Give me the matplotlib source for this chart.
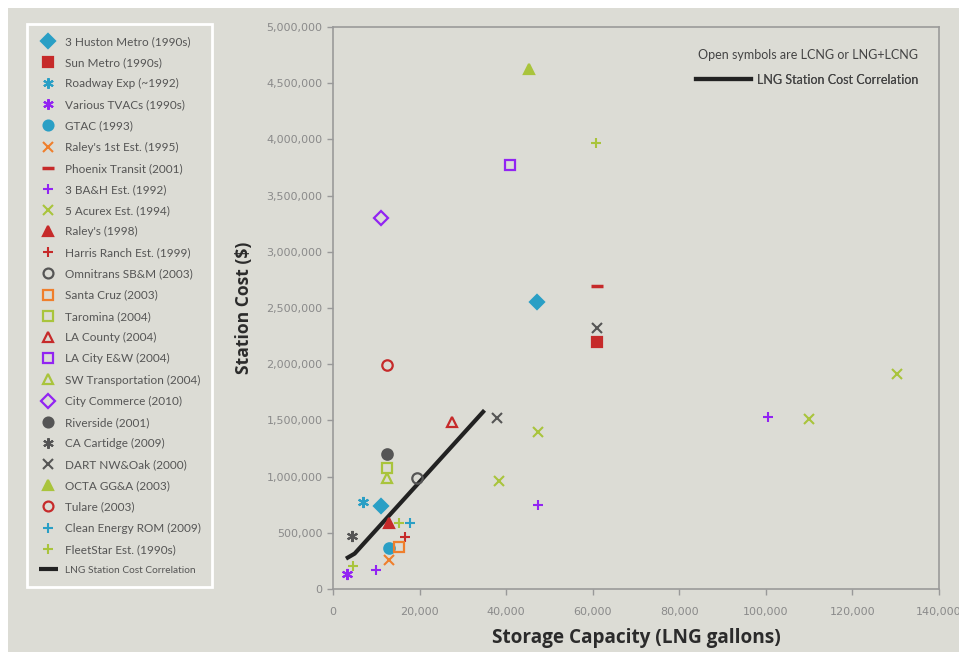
"""LNG station cost vs storage capacity scatter."""
import matplotlib
matplotlib.use("Agg")
import matplotlib.pyplot as plt
from matplotlib.lines import Line2D
from matplotlib.patches import Rectangle
from matplotlib.ticker import FuncFormatter

BG = "#dcdcd5"
TEAL = "#2a9fc5"
RED = "#c62a2a"
PURPLE = "#9224f2"
ORANGE = "#ef7f2c"
YG = "#a9c43c"
GRAY = "#555555"
AST = (6, 2, 0)

# name, marker, color, filled, storage (gal), cost ($)
names = [
    "3 Huston Metro (1990s)", "Sun Metro (1990s)", "Roadway Exp (~1992)",
    "Various TVACs (1990s)", "GTAC (1993)", "Raley's 1st Est. (1995)",
    "Phoenix Transit (2001)", "3 BA&H Est. (1992)", "5 Acurex Est. (1994)",
    "Raley's (1998)", "Harris Ranch Est. (1999)", "Omnitrans SB&M (2003)",
    "Santa Cruz (2003)", "Taromina (2004)", "LA County (2004)",
    "LA City E&W (2004)", "SW Transportation (2004)", "City Commerce (2010)",
    "Riverside (2001)", "CA Cartidge (2009)", "DART NW&Oak (2000)",
    "OCTA GG&A (2003)", "Tulare (2003)", "Clean Energy ROM (2009)",
    "FleetStar Est. (1990s)",
]
markers = ["D", "s", AST, AST, "o", "x", "_", "+", "x", "^", "+", "o", "s",
           "s", "^", "s", "^", "D", "o", AST, "x", "^", "o", "+", "+"]
colors = [TEAL, RED, TEAL, PURPLE, TEAL, ORANGE, RED, PURPLE, YG, RED, RED,
          GRAY, ORANGE, YG, RED, PURPLE, YG, PURPLE, GRAY, GRAY, GRAY, YG,
          RED, TEAL, YG]
filled = [True, True, True, True, True, True, True, True, True, True, True,
          False, False, False, False, False, False, False, True, True, True,
          True, False, True, True]

storage = [
    [47200, 11000], [60900], [6900], [3200], [12900], [12900], [61000],
    [9900, 47300, 100500], [38400, 47300, 109900, 130400], [12900], [16600],
    [19400], [15300], [12500], [27600], [40800], [12500], [11000], [12500],
    [4400], [38000, 60900], [45200], [12400], [17800],
    [15300, 4700, 60800],
]
cost = [
    [2550000, 740000], [2200000], [770000], [130000], [365000], [255000],
    [2700000], [165000, 750000, 1530000],
    [960000, 1400000, 1515000, 1910000], [590000], [465000], [990000],
    [375000], [1080000], [1490000], [3770000], [990000], [3300000],
    [1200000], [470000], [1520000, 2320000], [4630000], [1990000],
    [590000], [590000, 205000, 3970000],
]

corr_x = [3000, 5000, 35000]
corr_y = [270000, 315000, 1590000]

plt.rcParams["font.family"] = ["Lato", "DejaVu Sans"]

fig = plt.figure(figsize=(9.59, 6.52), dpi=100, facecolor="white")
fig.patches.append(Rectangle((8 / 959, 0), 1, 1 - 8 / 652, transform=fig.transFigure,
                             facecolor=BG, edgecolor="none", zorder=-10))
ax = fig.add_axes([333 / 959, 1 - 589 / 652, (939 - 333) / 959, (589 - 27) / 652])
ax.set_facecolor(BG)

handles = []
for i, name in enumerate(names):
    m = markers[i]
    ms = 7.5
    mew = 1.6
    if m in ("x", "+"):
        ms = 7
        mew = 1.5
    if m == AST:
        ms = 8
        mew = 1.5
    if m == "_":
        ms = 9
        mew = 2.5
    h, = ax.plot(storage[i], cost[i], linestyle="none", marker=m, ms=ms,
                 mew=mew, color=colors[i],
                 mfc=colors[i] if filled[i] else "none", label=name, zorder=3)
    handles.append(h)

corr, = ax.plot(corr_x, corr_y, color="#222222", lw=3,
                solid_capstyle="butt", label="LNG Station Cost Correlation",
                zorder=2)

ax.set_xlim(0, 140000)
ax.set_ylim(0, 5000000)
ax.set_xticks(range(0, 140001, 20000))
ax.set_yticks(range(0, 5000001, 500000))
fmt = FuncFormatter(lambda v, p: f"{int(v):,}")
ax.xaxis.set_major_formatter(fmt)
ax.yaxis.set_major_formatter(fmt)
ax.tick_params(colors="#999999", labelcolor="#8a8a8a", labelsize=8,
               length=4, width=1)
for lab in ax.get_xticklabels() + ax.get_yticklabels():
    lab.set_family("DejaVu Sans")
ax.tick_params(axis="x", pad=9)
for s in ax.spines.values():
    s.set_color("#9a9a9a")
    s.set_linewidth(1.2)

ax.set_xlabel("Storage Capacity (LNG gallons)", fontsize=13.7, fontweight="bold",
              color="#2b2b2b", family=["Open Sans", "DejaVu Sans"], labelpad=8)
ax.set_ylabel("Station Cost ($)", fontsize=12.6, fontweight="bold",
              color="#2b2b2b", family=["Open Sans", "DejaVu Sans"], labelpad=10)

# inner note + correlation key
ax.text(0.965, 0.95, "Open symbols are LCNG or LNG+LCNG", transform=ax.transAxes,
        ha="right", va="center", fontsize=9, color="#444444")
inner = ax.legend(handles=[Line2D([], [], color="#222222", lw=3)],
                  labels=["LNG Station Cost Correlation"], loc="center right",
                  bbox_to_anchor=(0.985, 0.906), frameon=False, fontsize=9,
                  handlelength=4.4, handletextpad=0.5, labelcolor="#444444")
ax.add_artist(inner)

# big legend on the left
leg = fig.legend(handles=handles + [corr],
                 labels=names + ["LNG Station Cost Correlation"],
                 loc="upper left", bbox_to_anchor=(27 / 959, 1 - 24 / 652),
                 bbox_transform=fig.transFigure, fontsize=8.5, labelcolor="#555555",
                 labelspacing=0.86, handlelength=1.6, handletextpad=0.6,
                 borderpad=1.0, borderaxespad=0, fancybox=False, framealpha=1,
                 facecolor=BG, edgecolor="white", markerscale=0.95)
leg.get_frame().set_linewidth(2)
leg.get_texts()[-1].set_fontsize(7.3)

fig.savefig("out.png", dpi=100, facecolor=fig.get_facecolor())
